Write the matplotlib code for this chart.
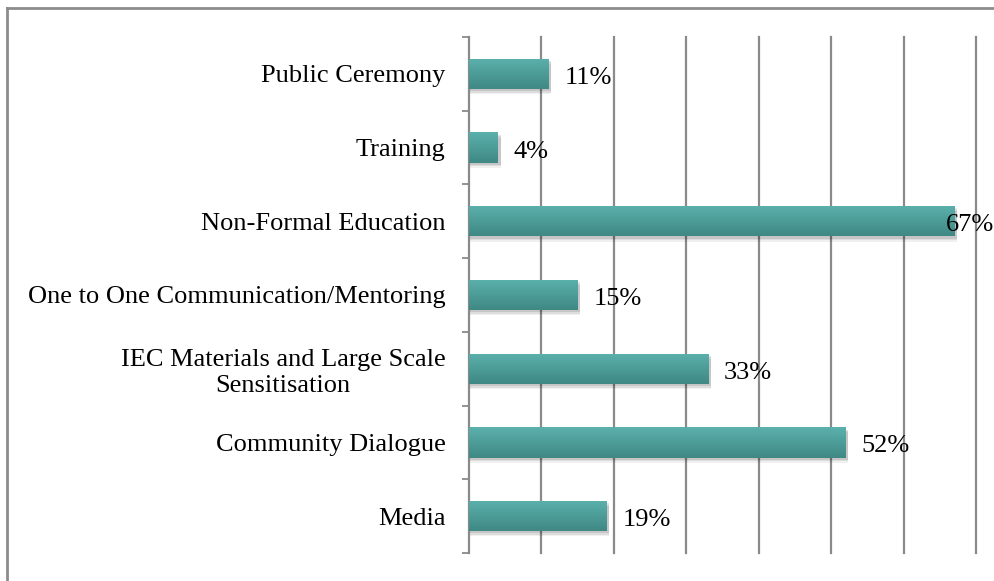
import matplotlib.pyplot as plt
import numpy as np
from matplotlib.patches import Rectangle
from matplotlib.lines import Line2D

categories = ['Public Ceremony', 'Training', 'Non-Formal Education',
              'One to One Communication/Mentoring',
              'IEC Materials and Large Scale\nSensitisation',
              'Community Dialogue', 'Media']
values = [11, 4, 67, 15, 33, 52, 19]
labels = ['11%', '4%', '67%', '15%', '33%', '52%', '19%']

plt.rcParams['font.family'] = ['Liberation Serif', 'DejaVu Serif']

fig = plt.figure(figsize=(9.94, 5.81), dpi=100)
ax = fig.add_axes([469 / 994, 1 - 553 / 581, (976 - 469) / 994, (553 - 37) / 581])

y = np.arange(len(categories))
h = 0.41
grad = np.linspace(0, 1, 64).reshape(-1, 1)
top_c = np.array([0x5b, 0xb1, 0xac]) / 255
bot_c = np.array([0x3f, 0x88, 0x84]) / 255
img = top_c + (bot_c - top_c) * grad[..., None]
img = img.reshape(64, 1, 3)

for yi, v in zip(y, values):
    # soft shadow
    for k, a in [(0.07, 0.06), (0.05, 0.08), (0.03, 0.10)]:
        ax.add_patch(Rectangle((0, yi - h / 2 + k), v + 0.35, h, color='black',
                               alpha=a, lw=0, zorder=2))
    bar = Rectangle((0, yi - h / 2), v, h, lw=0, facecolor='#4c9f9a', zorder=3)
    ax.add_patch(bar)
    im = ax.imshow(img, extent=(0, v, yi + h / 2, yi - h / 2), aspect='auto',
                   zorder=4, interpolation='bilinear')
    im.set_clip_path(bar)

# labels go outside the bar end, pulled back in if they would leave the chart
for yi, v, lab in zip(y, values, labels):
    ax.text(min(v + 2.2, 65.8), yi + 0.02, lab, va='center_baseline', ha='left',
            fontsize=19, zorder=5, clip_on=False)

ax.set_xlim(0, 70)
ax.set_ylim(len(categories) - 0.5, -0.5)
ax.set_xticks(np.arange(10, 71, 10))
ax.xaxis.grid(True, color='#8a8a8a', lw=1.6)
for gl in ax.get_xgridlines():
    gl.set_clip_on(False)
ax.set_axisbelow(True)
ax.tick_params(axis='x', length=0, labelbottom=False)

ax.set_yticks(y)
ax.set_yticklabels(categories, fontsize=19)
ax.tick_params(axis='y', length=0, pad=17)
ax.set_yticks(np.arange(-0.5, len(categories)), minor=True)
ax.tick_params(axis='y', which='minor', length=5, width=1.3, color='#8a8a8a')
for t in ax.get_yticklabels():
    t.set_multialignment('center')
    t.set_verticalalignment('center_baseline')

for s in ['top', 'right', 'bottom']:
    ax.spines[s].set_visible(False)
ax.spines['left'].set_color('#8a8a8a')
ax.spines['left'].set_linewidth(1.6)

# outer chart border
fig.add_artist(Line2D([7 / 994, 7 / 994], [0, 1 - 7.5 / 581], color='#8c8c8c', lw=2))
fig.add_artist(Line2D([7 / 994, 1], [1 - 7.5 / 581, 1 - 7.5 / 581], color='#8c8c8c', lw=2))

fig.savefig('out.png', dpi=100)
